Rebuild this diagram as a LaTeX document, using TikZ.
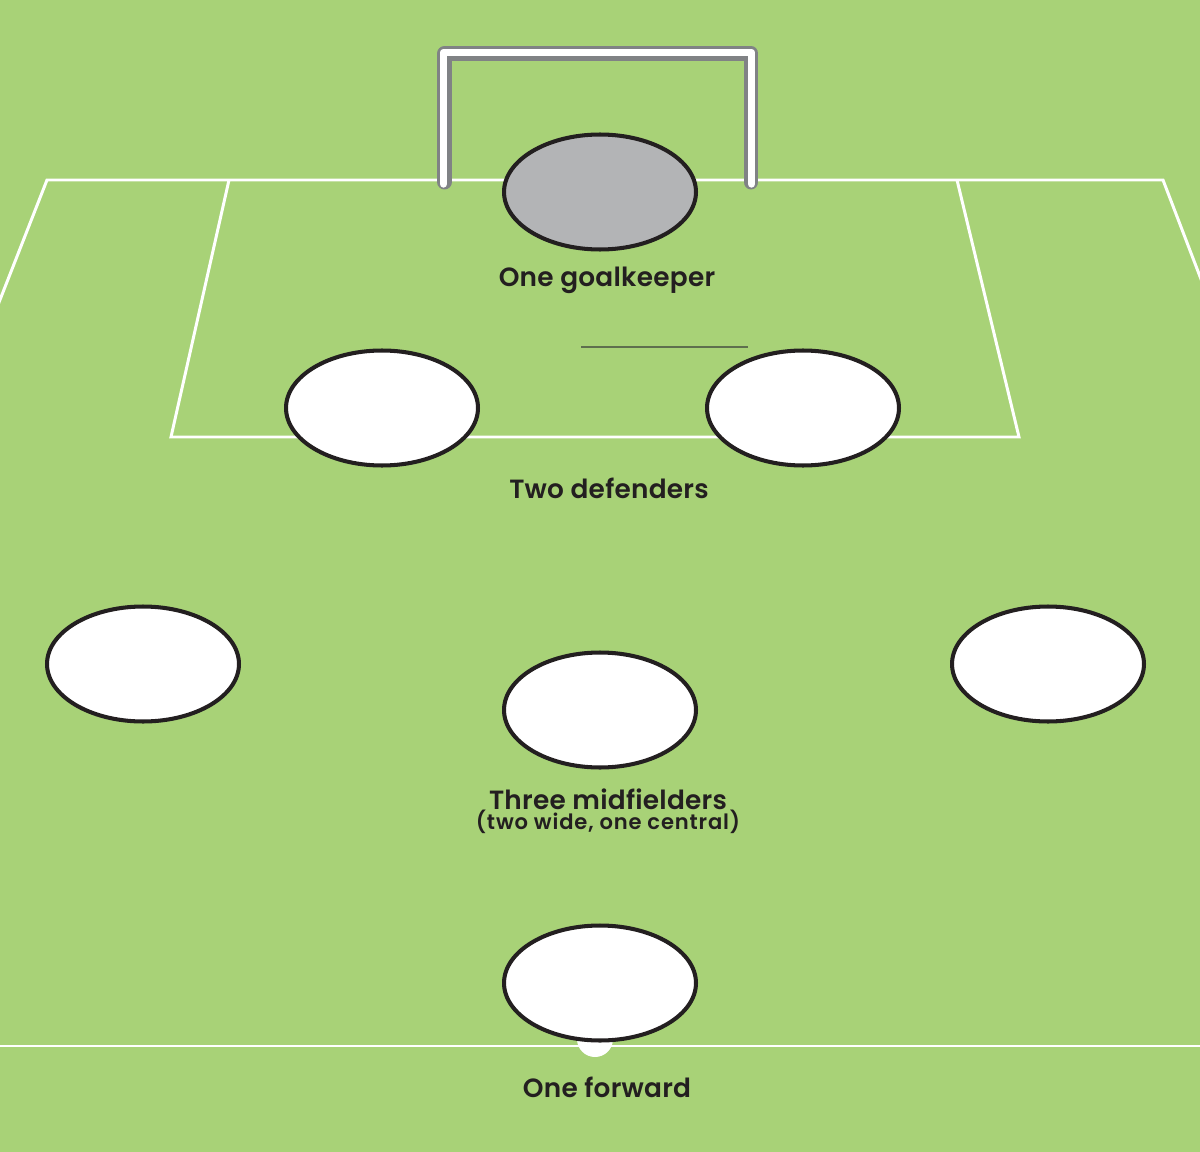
\documentclass[tikz,border=0pt]{standalone}
\usepackage{fontspec}
\setmainfont{Poppins}[BoldFont={Poppins SemiBold}]
\usepackage{tikz}
\usetikzlibrary{positioning,shapes.geometric}
\definecolor{pitch}{HTML}{A8D277}
\definecolor{ink}{HTML}{231F20}
\definecolor{postgray}{HTML}{808285}
\definecolor{keeper}{HTML}{B3B4B6}
\definecolor{markline}{HTML}{5E6F4E}
\tikzset{
	player/.style={ellipse,draw=ink,line width=2.3pt,fill=white,minimum width=3.84cm,minimum height=2.3cm,inner sep=0pt},
	pitchline/.style={white,line width=1.7pt},
	role/.style={text=ink,font=\fontsize{15}{18}\selectfont\bfseries\addfontfeature{LetterSpace=1}},
	note/.style={text=ink,font=\fontsize{12}{14}\selectfont\bfseries\addfontfeature{LetterSpace=4}}
}
\begin{document}
\begin{tikzpicture}[x=0.02cm,y=-0.02cm]
	\useasboundingbox (0,0) rectangle (1200,1152);
	\clip (0,0) rectangle (1200,1152);
	\fill[pitch] (0,0) rectangle (1200,1152);
	\draw[pitchline] (-4,310) -- (47,180) -- (1163,180) -- (1204,287);
	\draw[pitchline] (229,180) -- (171,437) -- (1019,437) -- (957,180);
	\draw[pitchline,line width=1.2pt] (0,1046) -- (1200,1046);
	\fill[white] (595,1039) circle [radius=18];
	\draw[markline,line width=0.8pt] (581,347) -- (748,347);
	\draw[postgray,line width=8.5pt,line cap=round,line join=round] (444.5,182) -- (444.5,53.5) -- (751,53.5) -- (751,182);
	\draw[white,line width=4.2pt,line cap=round,line join=round] (443.5,184) -- (443.5,52.5) -- (751.5,52.5) -- (751.5,184);
	\node[player,fill=keeper] (gk) at (600,192) {};
	\node[player] (defL) at (382,408) {};
	\node[player] (defR) at (803,408) {};
	\node[player] (midL) at (143,664) {};
	\node[player] (midR) at (1048,664) {};
	\node[player] (midC) at (600,710) {};
	\node[player] (fwd) at (600,983) {};
	\node[role] (gkText) at (607,280) {One goalkeeper};
	\node[role] (defText) at (609,488) {Two defenders};
	\node[role] (midText) at (608,799) {Three midfielders};
	\node[note] (midNote) at (608,822) {(two wide, one central)};
	\node[role] (fwdText) at (607,1087) {One forward};
\end{tikzpicture}
\end{document}
